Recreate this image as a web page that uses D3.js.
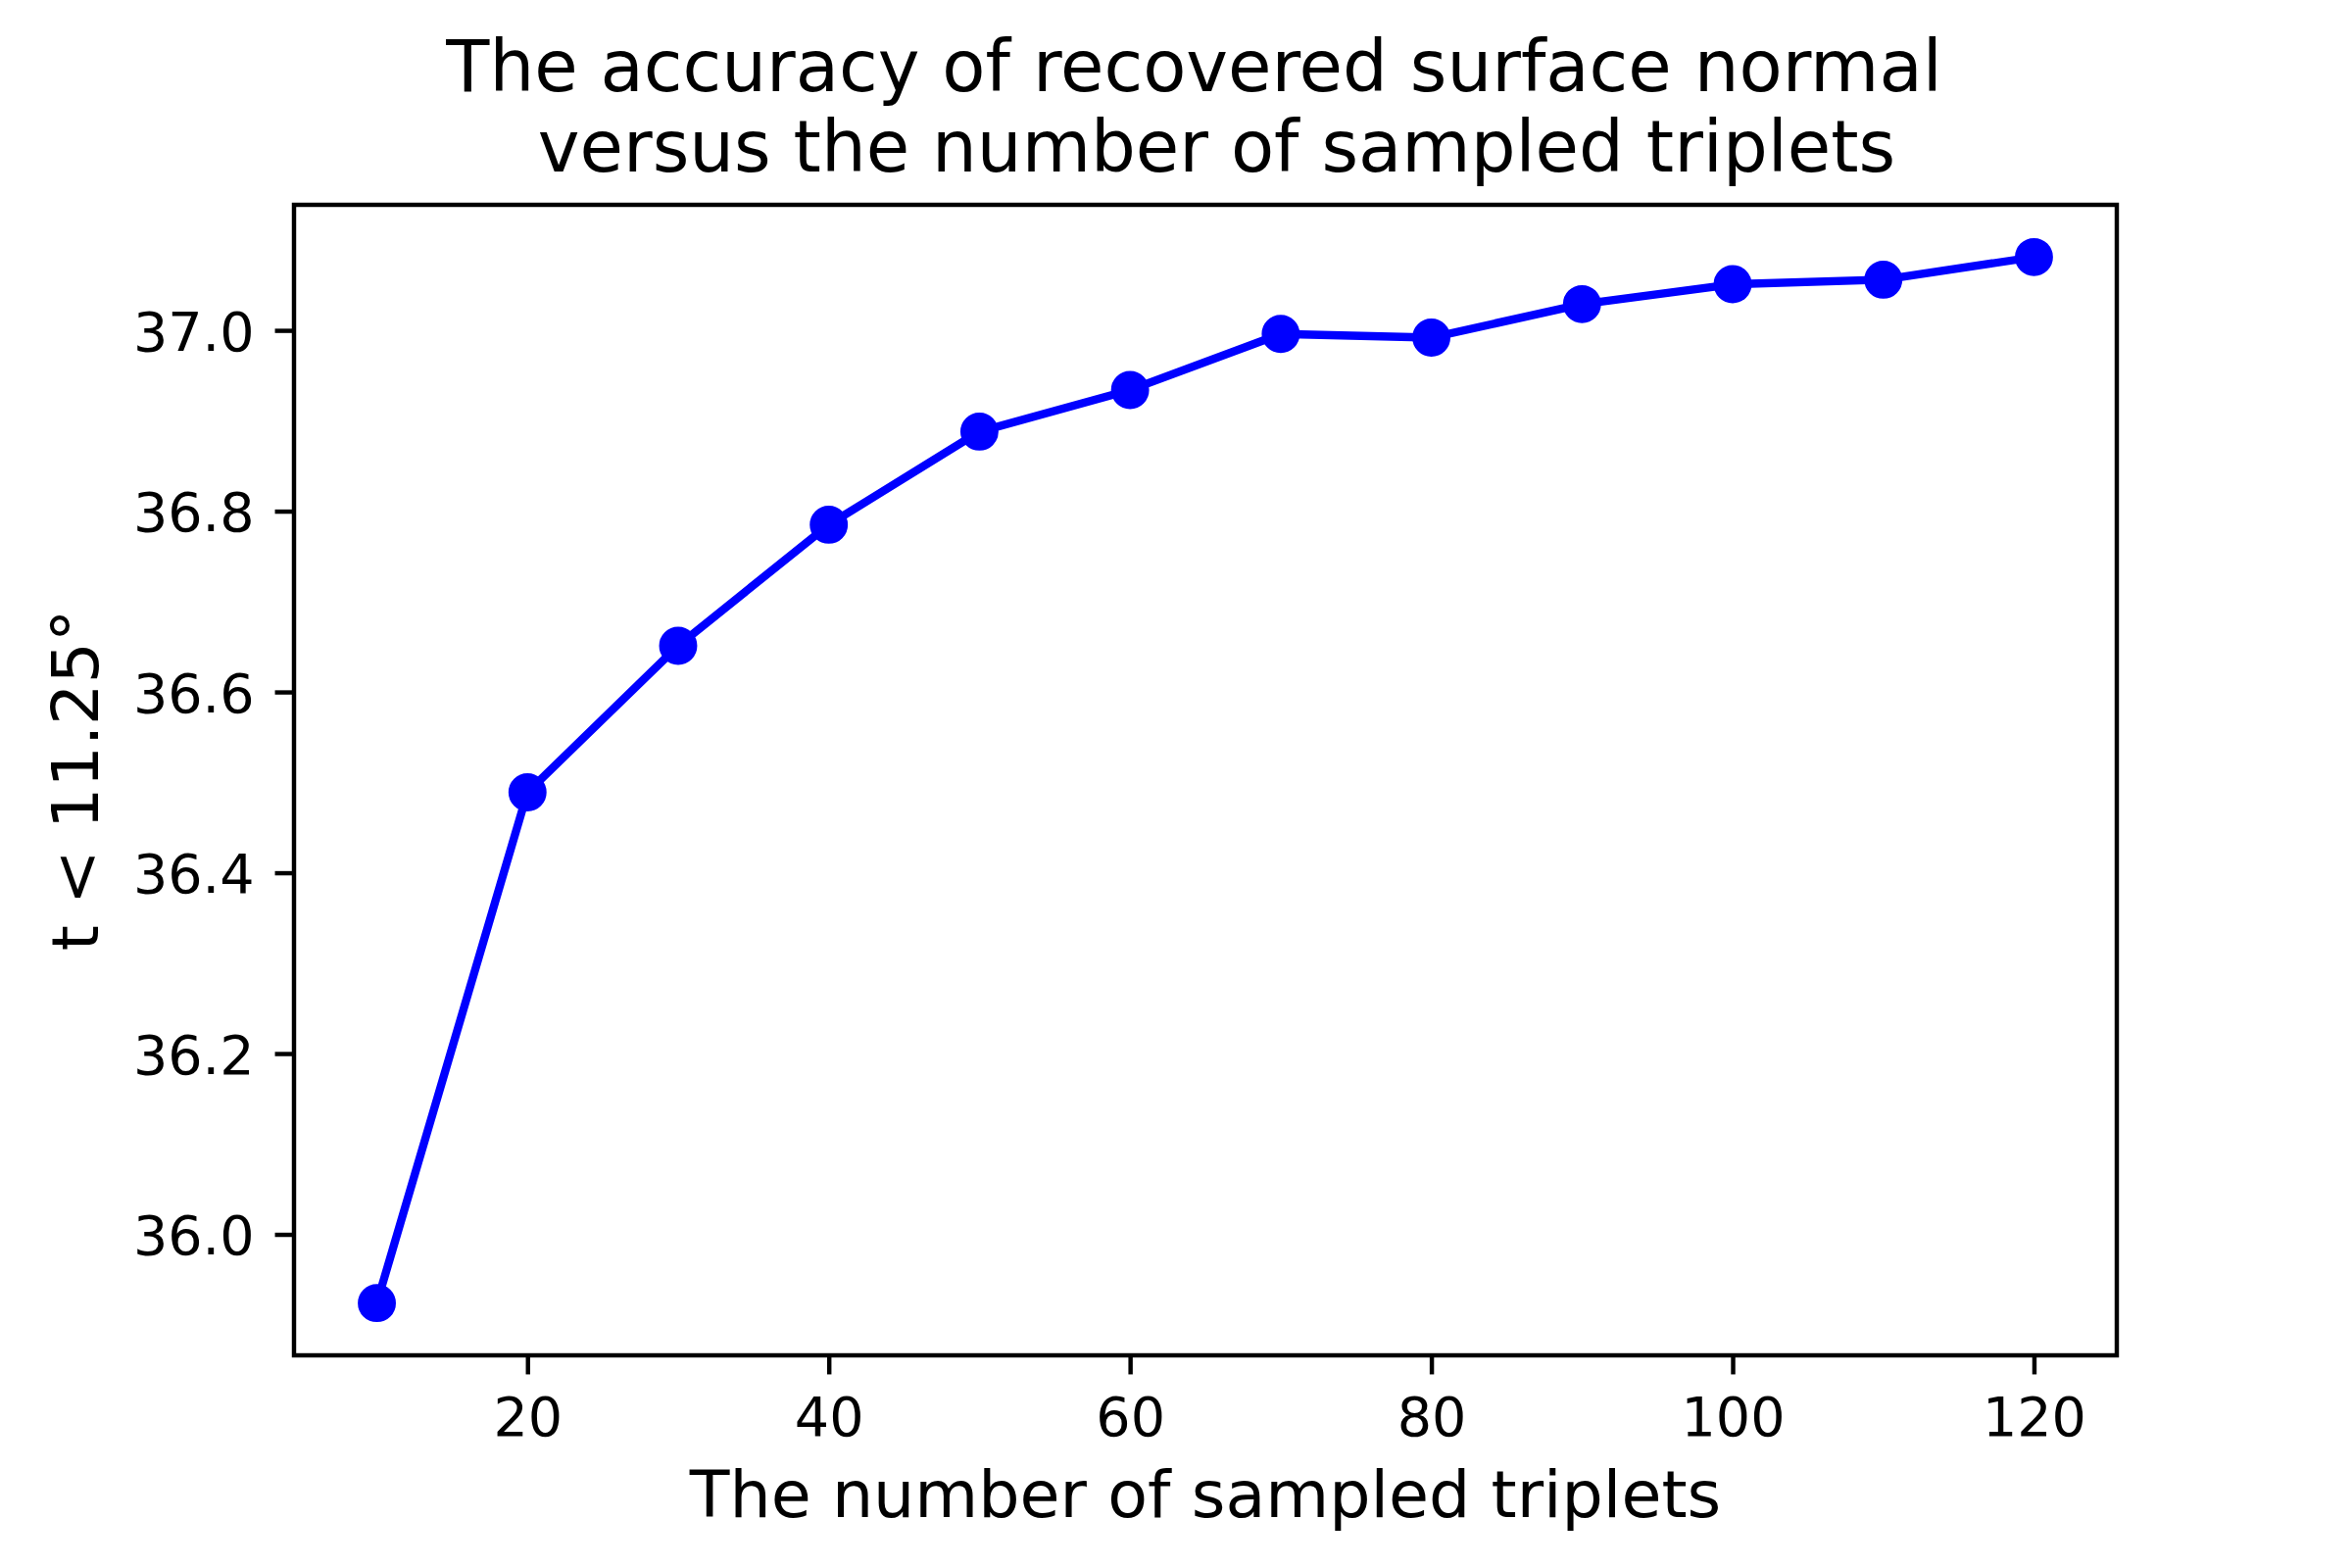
<!DOCTYPE html>
<html>
<head>
<meta charset="utf-8">
<title>Accuracy vs sampled triplets</title>
<script src="https://cdn.jsdelivr.net/npm/d3@7"></script>
<style>
    body { margin: 0; background: #fff; }
    svg { display: block; font-family: "DejaVu Sans", sans-serif; }
</style>
</head>
<body>
<div id="chart"></div>
<script>
// Data
const tripletCounts = [10, 20, 30, 40, 50, 60, 70, 80, 90, 100, 110, 120];
const accuracyValues = [35.924, 36.489, 36.651, 36.785, 36.888, 36.934, 36.996, 36.992, 37.029, 37.051, 37.056, 37.081];
const xTickValues = [20, 40, 60, 80, 100, 120];
const yTickValues = [36.0, 36.2, 36.4, 36.6, 36.8, 37.0];
const titleLines = ['The accuracy of recovered surface normal ', ' versus the number of sampled triplets'];
const xLabel = 'The number of sampled triplets';
const yLabel = 't < 11.25°';

/**
 * Line chart in the style of a matplotlib figure (6x4 in @ 400 dpi)
 */
class AccuracyChart {
    constructor(selector) {
        this.selector = selector;
        this.width = 2400;
        this.height = 1600;
        // Axes box
        this.box = { left: 300, right: 2160, top: 209, bottom: 1383 };
        this.pt = 400 / 72;
    }

    init() {
        this.svg = d3.select(this.selector)
            .append('svg')
            .attr('width', this.width)
            .attr('height', this.height);

        this.initScales();
        this.drawSeries();
        this.drawAxes();
        this.drawLabels();
    }

    initScales() {
        // matplotlib default 5% margins
        const [x0, x1] = d3.extent(tripletCounts);
        const [y0, y1] = d3.extent(accuracyValues);
        const xm = (x1 - x0) * 0.05;
        const ym = (y1 - y0) * 0.05;

        this.x = d3.scaleLinear()
            .domain([x0 - xm, x1 + xm])
            .range([this.box.left, this.box.right]);

        this.y = d3.scaleLinear()
            .domain([y0 - ym, y1 + ym])
            .range([this.box.bottom, this.box.top]);
    }

    drawSeries() {
        const points = tripletCounts.map((n, i) => ({ n, v: accuracyValues[i] }));
        const line = d3.line()
            .x(d => this.x(d.n))
            .y(d => this.y(d.v));

        this.svg.append('path')
            .datum(points)
            .attr('d', line)
            .attr('fill', 'none')
            .attr('stroke', '#0000ff')
            .attr('stroke-width', 1.5 * this.pt)
            .attr('stroke-linejoin', 'round')
            .attr('stroke-linecap', 'square');

        // marker size 6pt plus 1pt edge
        this.svg.append('g')
            .selectAll('circle')
            .data(points)
            .enter()
            .append('circle')
            .attr('cx', d => this.x(d.n))
            .attr('cy', d => this.y(d.v))
            .attr('r', 3 * this.pt)
            .attr('fill', '#0000ff')
            .attr('stroke', '#0000ff')
            .attr('stroke-width', this.pt);
    }

    drawAxes() {
        const tickLen = 3.5 * this.pt;
        const tickWidth = 0.8 * this.pt;
        const fontSize = 10 * this.pt;

        const xAxis = d3.axisBottom(this.x)
            .tickValues(xTickValues)
            .tickFormat(d3.format('d'))
            .tickSize(tickLen)
            .tickPadding(23);

        const yAxis = d3.axisLeft(this.y)
            .tickValues(yTickValues)
            .tickFormat(d3.format('.1f'))
            .tickSize(tickLen)
            .tickPadding(21);

        const gx = this.svg.append('g')
            .attr('transform', `translate(0,${this.box.bottom})`)
            .call(xAxis);

        const gy = this.svg.append('g')
            .attr('transform', `translate(${this.box.left},0)`)
            .call(yAxis);

        [gx, gy].forEach(g => {
            g.select('.domain').remove();
            g.selectAll('.tick line')
                .attr('stroke', '#000')
                .attr('stroke-width', tickWidth);
            g.selectAll('.tick text')
                .attr('fill', '#000')
                .style('font-family', '"DejaVu Sans", sans-serif')
                .style('font-size', fontSize + 'px');
        });
        gy.selectAll('.tick text').attr('dy', '0.36em');

        // Spines
        this.svg.append('rect')
            .attr('x', this.box.left)
            .attr('y', this.box.top)
            .attr('width', this.box.right - this.box.left)
            .attr('height', this.box.bottom - this.box.top)
            .attr('fill', 'none')
            .attr('stroke', '#000')
            .attr('stroke-width', tickWidth);
    }

    drawLabels() {
        const cx = (this.box.left + this.box.right) / 2;
        const cy = (this.box.top + this.box.bottom) / 2;

        // Title, two lines at 13pt
        const title = this.svg.append('text')
            .attr('text-anchor', 'middle')
            .style('white-space', 'pre')
            .style('font-size', (13 * this.pt) + 'px')
            .attr('fill', '#000');

        title.selectAll('tspan')
            .data(titleLines)
            .enter()
            .append('tspan')
            .attr('x', cx)
            .attr('y', (d, i) => 92.7 + i * 82.3)
            .text(d => d);

        // X label
        this.svg.append('text')
            .attr('x', cx)
            .attr('y', 1548)
            .attr('text-anchor', 'middle')
            .style('font-size', (12 * this.pt) + 'px')
            .attr('fill', '#000')
            .text(xLabel);

        // Y label
        this.svg.append('text')
            .attr('transform', `translate(100,${cy}) rotate(-90)`)
            .attr('text-anchor', 'middle')
            .style('font-size', (12 * this.pt) + 'px')
            .attr('fill', '#000')
            .text(yLabel);
    }
}

const chart = new AccuracyChart('#chart');
chart.init();
</script>
</body>
</html>
